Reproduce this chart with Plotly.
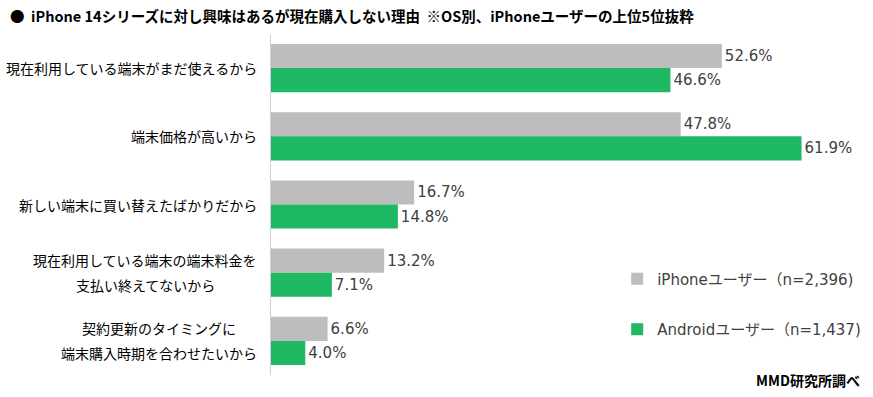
import plotly.graph_objects as go

categories = [
    "現在利用している端末がまだ使えるから",
    "端末価格が高いから",
    "新しい端末に買い替えたばかりだから",
    "現在利用している端末の端末料金を<br>支払い終えてないから",
    "契約更新のタイミングに<br>端末購入時期を合わせたいから",
]
iphone_values = [52.6, 47.8, 16.7, 13.2, 6.6]
android_values = [46.6, 61.9, 14.8, 7.1, 4.0]
series_names = ["iPhoneユーザー（n=2,396)", "Androidユーザー（n=1,437)"]
title_text = "●  iPhone 14シリーズに対し興味はあるが現在購入しない理由  ※OS別、iPhoneユーザーの上位5位抜粋"
source_text = "MMD研究所調べ"

GRAY = "#BDBDBD"
GREEN = "#1FB964"
CJK = "Noto Sans CJK JP"
LATIN = "DejaVu Sans, Noto Sans CJK JP"
LABEL_FS = 14
LINE_GAP = 25

cat_ids = [f"c{i}" for i in range(len(categories))]

fig = go.Figure()
for name, vals, color, grp in [
    (series_names[0], iphone_values, GRAY, "a"),
    (series_names[1], android_values, GREEN, "b"),
]:
    fig.add_trace(go.Bar(
        y=cat_ids, x=vals, orientation="h", name=name,
        marker=dict(color=color, line=dict(width=0)),
        texttemplate="%{x:.1f}%", textposition="outside",
        textfont=dict(family=LATIN, size=15, color="#404040"),
        cliponaxis=False, legendgroup=grp, hoverinfo="skip",
    ))

# category labels: each line centred on the widest line, right edge 14px left of the axis
for cid, label in zip(cat_ids, categories):
    lines = label.split("<br>")
    maxw = max(len(s) for s in lines) * LABEL_FS
    n = len(lines)
    for i, line in enumerate(lines):
        fig.add_annotation(
            x=0, xref="paper", y=cid, yref="y", xanchor="center", yanchor="middle",
            xshift=-14 - maxw / 2, yshift=((n - 1) / 2 - i) * LINE_GAP,
            text=line, showarrow=False,
            font=dict(family=CJK, size=LABEL_FS, color="#000000"),
        )

fig.add_annotation(
    x=0.985, xref="paper", y=-0.015, yref="paper", xanchor="right", yanchor="middle",
    text="<b>" + source_text + "</b>", showarrow=False,
    font=dict(family=CJK, size=14, color="#000000"),
)

fig.update_layout(
    width=873, height=397,
    margin=dict(l=271, r=2, t=34, b=22),
    paper_bgcolor="white", plot_bgcolor="white",
    barmode="group", bargap=0.293, bargroupgap=0,
    title=dict(text="<b>" + title_text + "</b>", x=10 / 873, xanchor="left",
               y=1 - 17 / 397, yanchor="middle",
               font=dict(family=CJK, size=14.5, color="#000000")),
    xaxis=dict(range=[0, 70], showgrid=False, zeroline=False, showticklabels=False,
               showline=False),
    yaxis=dict(autorange="reversed", showticklabels=False, showgrid=False,
               showline=True, linecolor="#D0D0D0", linewidth=1, ticks=""),
    legend=dict(x=0.577, y=0.33, xanchor="left", yanchor="top",
                traceorder="grouped", tracegroupgap=28,
                font=dict(family=LATIN, size=15, color="#404040"),
                bgcolor="rgba(0,0,0,0)"),
    showlegend=True,
)

fig.write_html("out.html", config={"displayModeBar": False},
               post_script="document.body.style.margin='0px';")
